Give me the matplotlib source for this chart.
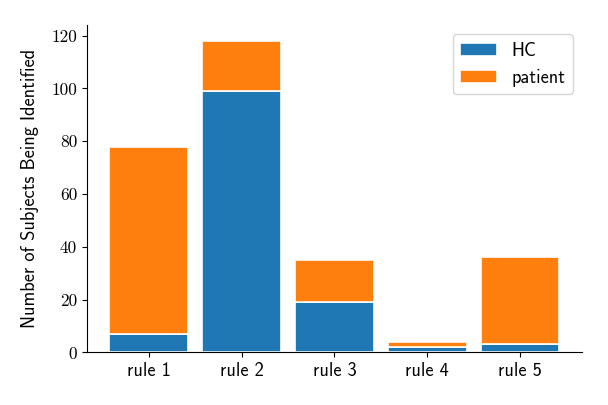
import matplotlib
matplotlib.use("Agg")
import matplotlib.pyplot as plt
import numpy as np

plt.rcParams["font.family"] = ["cmss10", "DejaVu Sans"]
plt.rcParams["axes.unicode_minus"] = False

rules = ["rule 1", "rule 2", "rule 3", "rule 4", "rule 5"]
hc = [7, 99, 19, 2, 3]
patient = [71, 19, 16, 2, 33]

fig, ax = plt.subplots(figsize=(6.08, 4.05), dpi=100)
x = np.arange(len(rules))
ax.bar(x, hc, width=0.85, color="#1f77b4", edgecolor="white", linewidth=1.2, label="HC")
ax.bar(x, patient, width=0.85, bottom=hc, color="#ff7f0e", edgecolor="white", linewidth=1.2, label="patient")

ax.set_xticks(x)
ax.set_xticklabels(rules, fontsize=13.2)
ax.set_ylim(0, 124)
ax.set_yticks([0, 20, 40, 60, 80, 100, 120])
ax.set_yticklabels(["0", "20", "40", "60", "80", "100", "120"], fontfamily="cmr10", fontsize=12.5)
ax.set_ylabel("Number of Subjects Being Identified", fontsize=13.2, labelpad=9)
ax.spines["top"].set_visible(False)
ax.spines["right"].set_visible(False)
ax.legend(loc="upper right", fontsize=13.2)

fig.subplots_adjust(left=0.143, right=0.957, top=0.938, bottom=0.13)
fig.savefig("out.png", dpi=100)
